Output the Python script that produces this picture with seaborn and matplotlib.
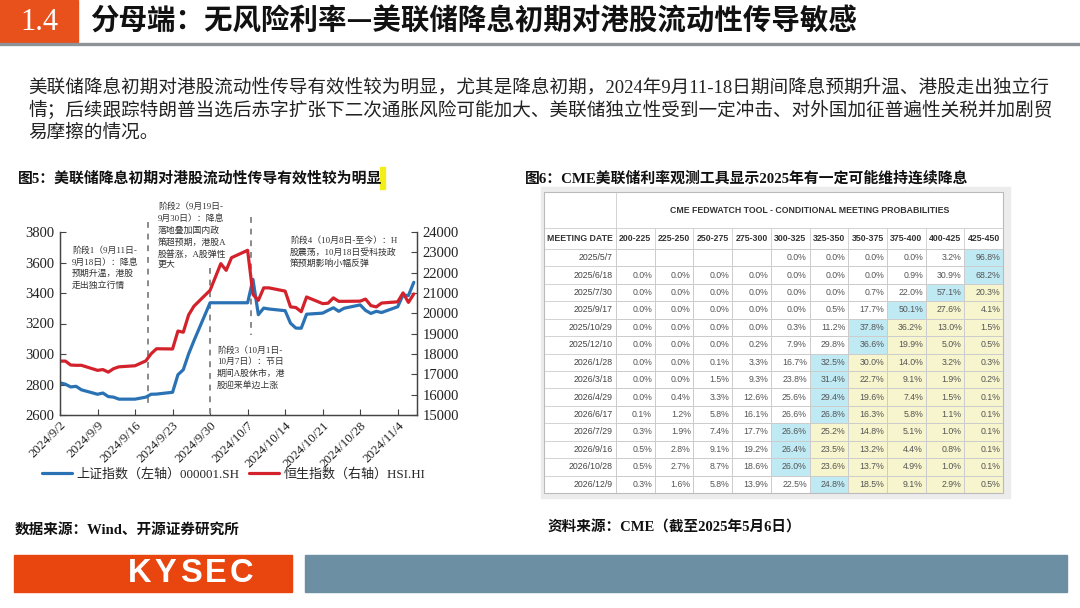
import numpy as np
import pandas as pd
import matplotlib
matplotlib.use("Agg")
import matplotlib.pyplot as plt
from matplotlib.patches import Rectangle
from matplotlib.lines import Line2D
from matplotlib.colors import ListedColormap
import seaborn as sns

sns.set_theme(style="white")
SERIF = ['Liberation Serif', 'Noto Sans CJK SC', 'DejaVu Sans']
SANS = ['Liberation Sans', 'DejaVu Sans']
CJK = ['Noto Sans CJK SC', 'DejaVu Sans']
plt.rcParams['font.family'] = SERIF
plt.rcParams['axes.unicode_minus'] = False

# ---- 图5 数据：上证指数 / 恒生指数 ----
trade_dates = ['2024-09-02', '2024-09-03', '2024-09-04', '2024-09-05', '2024-09-06',
               '2024-09-09', '2024-09-10', '2024-09-11', '2024-09-12', '2024-09-13',
               '2024-09-16', '2024-09-18', '2024-09-19', '2024-09-20', '2024-09-23',
               '2024-09-24', '2024-09-25', '2024-09-26', '2024-09-27', '2024-09-30',
               '2024-10-02', '2024-10-03', '2024-10-04', '2024-10-07', '2024-10-08',
               '2024-10-09', '2024-10-10', '2024-10-11', '2024-10-14', '2024-10-15',
               '2024-10-16', '2024-10-17', '2024-10-18', '2024-10-21', '2024-10-22',
               '2024-10-23', '2024-10-24', '2024-10-25', '2024-10-28', '2024-10-29',
               '2024-10-30', '2024-10-31', '2024-11-01', '2024-11-04', '2024-11-05',
               '2024-11-06', '2024-11-07']
sh_index = [2811, 2802, 2784, 2788, 2765, 2736, 2744, 2721, 2717, 2704,
            2704, 2717, 2736, 2737, 2749, 2864, 2897, 3001, 3088, 3336,
            3336, 3336, 3336, 3336, 3489, 3258, 3301, 3295, 3284, 3202,
            3170, 3169, 3261, 3268, 3286, 3303, 3280, 3300, 3322, 3286,
            3266, 3280, 3272, 3310, 3387, 3383, 3470]
hsi_index = [17651, 17652, 17457, 17444, 17444, 17196, 17234, 17108, 17280, 17369,
             17422, 17660, 18013, 18258, 18247, 19129, 19071, 19925, 20355, 21134,
             22444, 22114, 22737, 23100, 20926, 20637, 21252, 21252, 21093, 20318,
             20286, 20079, 20804, 20478, 20498, 20760, 20590, 20590, 20599, 20701,
             20380, 20317, 20506, 20567, 21006, 20538, 20953]
left_ticks = [2600, 2800, 3000, 3200, 3400, 3600, 3800]
right_ticks = [15000, 16000, 17000, 18000, 19000, 20000, 21000, 22000, 23000, 24000]
stage_bounds = ['2024-09-18 12:00', '2024-09-30 00:00', '2024-10-07 14:00']

# ---- 图6 数据：CME FedWatch ----
meeting_dates = ['2025/5/7', '2025/6/18', '2025/7/30', '2025/9/17', '2025/10/29',
                 '2025/12/10', '2026/1/28', '2026/3/18', '2026/4/29', '2026/6/17',
                 '2026/7/29', '2026/9/16', '2026/10/28', '2026/12/9']
rate_ranges = ['200-225', '225-250', '250-275', '275-300', '300-325',
               '325-350', '350-375', '375-400', '400-425', '425-450']
prob_rows = [
    [None, None, None, None, 0.0, 0.0, 0.0, 0.0, 3.2, 96.8],
    [0.0, 0.0, 0.0, 0.0, 0.0, 0.0, 0.0, 0.9, 30.9, 68.2],
    [0.0, 0.0, 0.0, 0.0, 0.0, 0.0, 0.7, 22.0, 57.1, 20.3],
    [0.0, 0.0, 0.0, 0.0, 0.0, 0.5, 17.7, 50.1, 27.6, 4.1],
    [0.0, 0.0, 0.0, 0.0, 0.3, 11.2, 37.8, 36.2, 13.0, 1.5],
    [0.0, 0.0, 0.0, 0.2, 7.9, 29.8, 36.6, 19.9, 5.0, 0.5],
    [0.0, 0.0, 0.1, 3.3, 16.7, 32.5, 30.0, 14.0, 3.2, 0.3],
    [0.0, 0.0, 1.5, 9.3, 23.8, 31.4, 22.7, 9.1, 1.9, 0.2],
    [0.0, 0.4, 3.3, 12.6, 25.6, 29.4, 19.6, 7.4, 1.5, 0.1],
    [0.1, 1.2, 5.8, 16.1, 26.6, 26.8, 16.3, 5.8, 1.1, 0.1],
    [0.3, 1.9, 7.4, 17.7, 26.6, 25.2, 14.8, 5.1, 1.0, 0.1],
    [0.5, 2.8, 9.1, 19.2, 26.4, 23.5, 13.2, 4.4, 0.8, 0.1],
    [0.5, 2.7, 8.7, 18.6, 26.0, 23.6, 13.7, 4.9, 1.0, 0.1],
    [0.3, 1.6, 5.8, 13.9, 22.5, 24.8, 18.5, 9.1, 2.9, 0.5],
]

W, H = 1080, 608
ORANGE = '#e8501c'
BLUE = '#2a72b4'
RED = '#d3222b'


def fx(x):
    return x / W


def fy(y):
    return 1 - y / H


fig = plt.figure(figsize=(10.8, 6.08), dpi=100)
fig.patch.set_facecolor('white')

# ---- 页眉 ----
fig.add_artist(Rectangle((0, fy(42)), fx(78), 42 / H, transform=fig.transFigure,
                         color=ORANGE, zorder=2))
fig.add_artist(Line2D([0, 1], [fy(44), fy(44)], transform=fig.transFigure,
                      color='#8e9397', lw=2.4))
fig.text(fx(39), fy(22), '1.4', color='white', fontsize=22, ha='center', va='center',
         family=SERIF, zorder=3)
fig.text(fx(90), fy(22), '分母端：无风险利率—美联储降息初期对港股流动性传导敏感',
         fontsize=20.5, fontweight='bold', color='#111', ha='left', va='center', family=CJK)

para = ['美联储降息初期对港股流动性传导有效性较为明显，尤其是降息初期，2024年9月11-18日期间降息预期升温、港股走出独立行',
        '情；后续跟踪特朗普当选后赤字扩张下二次通胀风险可能加大、美联储独立性受到一定冲击、对外国加征普遍性关税并加剧贸',
        '易摩擦的情况。']
for k, line in enumerate(para):
    fig.text(fx(28), fy(87 + 23 * k), line, fontsize=13.4, color='#222', ha='left', va='center')

# ---- 图标题 ----
fig.text(fx(18), fy(178), '图5：美联储降息初期对港股流动性传导有效性较为明显',
         fontsize=10.7, fontweight='bold', color='#111', va='center')
fig.add_artist(Rectangle((fx(380), fy(189)), fx(5), 22 / H, transform=fig.transFigure,
                         color='#f3ee1a'))
fig.text(fx(525), fy(178), '图6：CME美联储利率观测工具显示2025年有一定可能维持连续降息',
         fontsize=10.7, fontweight='bold', color='#111', va='center')

# ---- 图5 折线 ----
df = pd.DataFrame({'date': pd.to_datetime(trade_dates), 'sh': sh_index, 'hsi': hsi_index})
ax = fig.add_axes([fx(60), fy(415), 357 / W, 183 / H])
sns.lineplot(data=df, x='date', y='sh', ax=ax, color=BLUE, lw=2.3, legend=False)
ax2 = ax.twinx()
sns.lineplot(data=df, x='date', y='hsi', ax=ax2, color=RED, lw=2.3, legend=False)

start = pd.Timestamp('2024-09-02')
ax.set_xlim(start, start + pd.Timedelta(days=66.6))
ax.set_ylim(2600, 3800)
ax2.set_ylim(15000, 24000)
xt = pd.date_range('2024-09-02', '2024-11-04', freq='7D')
ax.set_xticks(xt)
ax.set_xticklabels([f'{d.year}/{d.month}/{d.day}' for d in xt], rotation=45,
                   ha='right', rotation_mode='anchor', fontsize=9.4, color='#222')
ax.set_yticks(left_ticks)
ax.set_yticklabels([str(v) for v in left_ticks], fontsize=10.5, color='#222')
ax2.set_yticks(right_ticks)
ax2.set_yticklabels([str(v) for v in right_ticks], fontsize=10.5, color='#222')
ax.set_xlabel('')
ax.set_ylabel('')
ax2.set_ylabel('')
ax.tick_params(axis='x', bottom=True, direction='in', length=4, width=0.8, color='#444', pad=3)
ax.tick_params(axis='y', left=True, direction='in', length=4, width=0.8, color='#444', pad=4)
ax2.tick_params(axis='y', right=True, direction='in', length=4, width=0.8, color='#444', pad=4)
for a in (ax, ax2):
    a.spines['top'].set_visible(False)
    for s in ('left', 'right', 'bottom'):
        a.spines[s].set_color('#444')
        a.spines[s].set_linewidth(0.9)
    a.set_facecolor('none')

# 阶段分界虚线
dash_spans = [(3865, 2646), (3564, 2600), (3898, 3125)]
for b, (y0, y1) in zip(stage_bounds, dash_spans):
    t = pd.Timestamp(b)
    ax.plot([t, t], [y0, y1], color='#8a8a8a', lw=1.4, ls=(0, (3, 3)), clip_on=False, zorder=1)

notes = [
    ('阶段1（9月11日-\n9月18日）：降息\n预期升温，港股\n走出独立行情', 72, 246),
    ('阶段2（9月19日-\n9月30日）：降息\n落地叠加国内政\n策超预期，港股A\n股普涨，A股弹性\n更大', 158, 202),
    ('阶段3（10月1日-\n10月7日）：节日\n期间A股休市，港\n股迎来单边上涨', 217, 346),
    ('阶段4（10月8日-至今）：H\n股震荡，10月18日受科技政\n策预期影响小幅反弹', 290, 236),
]
for txt, x, y in notes:
    fig.text(fx(x), fy(y), txt, fontsize=6.4, color='#333', ha='left', va='top', linespacing=1.45)

fig.legend(handles=[Line2D([], [], color=BLUE, lw=2.3), Line2D([], [], color=RED, lw=2.3)],
           labels=['上证指数（左轴）000001.SH', '恒生指数（右轴）HSI.HI'],
           loc='center left', bbox_to_anchor=(fx(42), fy(474)), ncol=2, frameon=False,
           fontsize=9.4, handlelength=2.3, handletextpad=0.3, columnspacing=0.8,
           borderpad=0, borderaxespad=0)

fig.text(fx(15), fy(530), '数据来源：Wind、开源证券研究所', fontsize=10.5, fontweight='bold',
         color='#111', va='center')
fig.text(fx(548), fy(527), '资料来源：CME（截至2025年5月6日）', fontsize=10.5, fontweight='bold',
         color='#111', va='center')

# ---- 图6 表格（heatmap） ----
fig.add_artist(Rectangle((fx(541), fy(498)), fx(469), 311 / H, transform=fig.transFigure,
                         color='#ececec', zorder=0))
vals = np.array([[np.nan if v is None else v for v in row] for row in prob_rows], dtype=float)
cat = np.zeros_like(vals)
for i, row in enumerate(vals):
    j = int(np.nanargmax(row))
    cat[i, j] = 2
    cat[i, j + 1:] = 1
annot = np.array([['' if np.isnan(v) else f'{v:.1f}%' for v in row] for row in vals])
cmap = ListedColormap(['#ffffff', '#f7f5cd', '#bfe9f3'])

tax = fig.add_axes([fx(544), fy(493), 459 / W, 301 / H])
sns.heatmap(cat, ax=tax, cmap=cmap, vmin=-0.5, vmax=2.5, cbar=False, annot=annot, fmt='',
            linewidths=0.6, linecolor='#cccccc',
            annot_kws=dict(fontsize=6.3, color='#555555', family=SANS))
for t in tax.texts:
    x, y = t.get_position()
    t.set_position((x + 0.43, y))
    t.set_ha('right')

lab_w = 72 / 38.7
h2 = 1.2
h1 = 3.27
tax.set_xlim(-lab_w, 10)
tax.set_ylim(14, -h1)
tax.axis('off')
tax.add_patch(Rectangle((-lab_w, -h1), lab_w + 10, 14 + h1, color='white', zorder=0))
lc = '#cccccc'
for i in range(15):
    tax.plot([-lab_w, 0], [i, i], color=lc, lw=0.6)
tax.plot([-lab_w, 10], [-h2, -h2], color=lc, lw=0.6)
for j in range(11):
    tax.plot([j, j], [-h2, 0], color=lc, lw=0.6)
tax.plot([0, 0], [-h1, 14], color=lc, lw=0.6)
tax.plot([-lab_w, 10, 10, -lab_w, -lab_w], [-h1, -h1, 14, 14, -h1], color='#bbbbbb', lw=0.8,
         clip_on=False)

tax.text(5, -(h1 + h2) / 2, 'CME FEDWATCH TOOL - CONDITIONAL MEETING PROBABILITIES',
         fontsize=6.3, fontweight='bold', color='#333', ha='center', va='center', family=SANS)
tax.text(-lab_w / 2, -h2 / 2, 'MEETING DATE', fontsize=6.3, fontweight='bold', color='#333',
         ha='center', va='center', family=SANS)
for j, r in enumerate(rate_ranges):
    tax.text(j + 0.5, -h2 / 2, r, fontsize=6.3, fontweight='bold', color='#333',
             ha='center', va='center', family=SANS)
for i, d in enumerate(meeting_dates):
    tax.text(-0.09, i + 0.5, d, fontsize=6.3, color='#444', ha='right', va='center', family=SANS)

# ---- 页脚 ----
fig.add_artist(Rectangle((fx(14), fy(592)), fx(278), 37 / H, transform=fig.transFigure,
                         color='#e8460e'))
fig.add_artist(Rectangle((fx(305), fy(592)), fx(762), 37 / H, transform=fig.transFigure,
                         color='#6d8fa3'))
for ch, cx in zip('KYSEC', [140, 165, 191, 216, 241]):
    fig.text(fx(cx), fy(574), ch, fontsize=23.5, fontweight='bold', color='white',
             ha='center', va='center', family=SANS)

fig.savefig('out.png', dpi=100, facecolor='white')
